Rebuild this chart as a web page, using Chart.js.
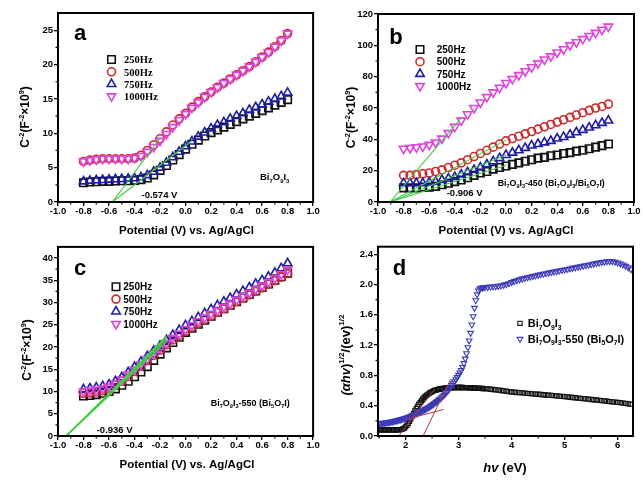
<!DOCTYPE html>
<html><head><meta charset="utf-8">
<script src="https://cdn.jsdelivr.net/npm/chart.js@4.4.0/dist/chart.umd.min.js"></script>
<style>
html,body{margin:0;padding:0;background:#fff;}
#wrap{position:relative;width:643px;height:482px;overflow:hidden;background:#fff}
canvas{position:absolute}
</style></head><body>
<div id="wrap">
<canvas id="ca" width="320" height="240" style="left:0;top:0;width:320px;height:240px"></canvas>
<canvas id="cb" width="323" height="240" style="left:320px;top:0;width:323px;height:240px"></canvas>
<canvas id="cc" width="320" height="242" style="left:0;top:240px;width:320px;height:242px"></canvas>
<canvas id="cd" width="323" height="242" style="left:320px;top:240px;width:323px;height:242px"></canvas>
</div>
<script>
// ---------------- DATA ----------------
const potential = [-0.8,-0.75,-0.7,-0.65,-0.6,-0.55,-0.5,-0.45,-0.4,-0.35,-0.3,-0.25,-0.2,-0.15,-0.1,-0.05,0,0.05,0.1,0.15,0.2,0.25,0.3,0.35,0.4,0.45,0.5,0.55,0.6,0.65,0.7,0.75,0.8];
const freqLabels = ['250Hz','500Hz','750Hz','1000Hz'];

const aF250  = [2.8,2.9,2.95,3.0,3.0,3.05,3.1,3.1,3.15,3.25,3.5,3.95,4.6,5.3,6.1,6.9,7.7,8.4,9.0,9.6,10.1,10.5,10.9,11.3,11.7,12.1,12.5,12.9,13.3,13.7,14.1,14.5,14.9];
const aF500  = [5.9,6.1,6.2,6.3,6.3,6.3,6.3,6.3,6.4,6.8,7.5,8.3,9.2,10.2,11.2,12.1,12.9,13.8,14.6,15.3,16.0,16.7,17.3,17.9,18.5,19.1,19.7,20.4,21.1,21.8,22.6,23.5,24.5];
const aF750  = [3.0,3.1,3.15,3.2,3.25,3.3,3.35,3.4,3.45,3.6,3.9,4.4,5.0,5.7,6.5,7.3,8.1,8.8,9.5,10.1,10.7,11.2,11.6,12.1,12.5,12.9,13.4,13.8,14.2,14.6,15.0,15.4,15.9];
const aF1000 = [5.9,6.1,6.2,6.3,6.3,6.3,6.3,6.3,6.4,6.7,7.3,8.0,8.9,9.9,10.9,11.9,12.8,13.7,14.5,15.3,16.0,16.7,17.3,17.9,18.5,19.1,19.7,20.4,21.1,21.8,22.6,23.5,24.5];
const aFitX = [[-0.574,-0.2],[-0.574,0.05]];
const aFitY = [[0,9.24],[0,8.9]];

const bF250  = [9,9,9,9.5,9.5,10,11,12,13,14,15.5,17,18.5,19.5,21,22,23,24,25,26,27,28,28.5,29.5,30,31,31.5,32.5,33,34,35,36,37];
const bF500  = [17,17,17.5,18,18.5,19.5,20.5,22,23.5,25,27,29,31,33,35,37,39,40.5,42,43.5,45,46.5,48,49.5,51,52.5,54,55.5,57,58.5,60,61,62.5];
const bF750  = [12,12,12,12,12.5,13,14,15,16,17.5,19,20.5,22,24,26,28,30,31.5,33,34.5,36,37,38,39,40.5,41.5,43,44.5,46,47.5,49,50.5,52];
const bF1000 = [34,34.5,35,35.5,36.5,38,40.5,44,48,52,56,60,63.5,67,70,73,76,78.5,81,83.5,86,88.5,91,93,95.5,97.5,100,102,104,106,108,110,112];
const bFitX = [[-0.906,-0.35],[-0.906,0.0],[-0.906,0.0],[-0.906,0.0]];
const bFitY = [[0,53.5],[0,39.5],[0,30],[0,23.5]];

const cF250  = [9.0,9.1,9.3,9.6,10.0,10.6,11.4,12.3,13.3,14.4,15.6,17.0,18.4,19.8,21.0,22.2,23.3,24.2,25.1,26.0,26.9,27.8,28.6,29.4,30.2,31.0,31.8,32.6,33.4,34.2,35.0,35.8,36.6];
const cF500  = [9.6,9.7,9.9,10.2,10.7,11.4,12.3,13.4,14.5,15.7,16.9,18.1,19.3,20.5,21.6,22.6,23.6,24.5,25.4,26.2,27.0,27.8,28.6,29.4,30.2,31.0,31.7,32.5,33.3,34.1,34.9,35.7,36.5];
const cF750  = [10.5,10.7,10.9,11.2,11.6,12.3,13.2,14.3,15.5,16.7,17.9,19.1,20.3,21.5,22.7,23.8,24.9,25.8,26.7,27.6,28.5,29.4,30.2,31.0,31.8,32.6,33.4,34.2,35.0,35.8,36.7,37.7,38.8];
const cF1000 = [10.0,10.2,10.4,10.7,11.1,11.8,12.7,13.8,14.9,16.1,17.3,18.5,19.7,20.9,22.0,23.0,24.0,24.9,25.8,26.6,27.4,28.2,29.0,29.8,30.6,31.4,32.2,33.0,33.8,34.6,35.5,36.4,37.4];
const cFitX = [[-0.936,-0.15],[-0.936,-0.15],[-0.936,-0.15],[-0.936,-0.15]];
const cFitY = [[0,21.2],[0,21.8],[0,22.4],[0,22.0]];

const dEnergy = [1.5,1.525,1.55,1.575,1.6,1.625,1.65,1.675,1.7,1.725,1.75,1.775,1.8,1.825,1.85,1.875,1.9,1.925,1.95,1.975,
2.0,2.025,2.05,2.075,2.1,2.125,2.15,2.175,2.2,2.225,2.25,2.275,2.3,2.325,2.35,2.375,2.4,2.425,2.45,2.475,
2.5,2.525,2.55,2.575,2.6,2.625,2.65,2.675,2.7,2.725,2.75,2.775,2.8,2.825,2.85,2.875,2.9,2.925,2.95,2.975,
3.0,3.025,3.05,3.075,3.1,3.125,3.15,3.175,3.2,3.225,3.25,3.275,3.3,3.325,3.35,3.375,3.4,3.425,3.45,3.475,3.5,
3.55,3.6,3.65,3.7,3.75,3.8,3.85,3.9,3.95,4.0,4.05,4.1,4.15,4.2,4.25,4.3,4.35,4.4,4.45,4.5,
4.55,4.6,4.65,4.7,4.75,4.8,4.85,4.9,4.95,5.0,5.05,5.1,5.15,5.2,5.25,5.3,5.35,5.4,5.45,5.5,
5.55,5.6,5.65,5.7,5.75,5.8,5.85,5.9,5.95,6.0,6.05,6.1,6.15,6.2,6.25];
const dBi7O9I3 = [.082,.082,.081,.081,.081,.080,.080,.080,.080,.080,.080,.080,.081,.081,.082,.083,.085,.088,.095,.105,
.120,.140,.165,.195,.228,.262,.296,.330,.362,.392,.420,.445,.468,.489,.508,.525,.540,.554,.566,.577,
.587,.595,.602,.608,.613,.617,.621,.624,.627,.629,.631,.633,.635,.636,.637,.638,.639,.639,.640,.640,
.640,.640,.640,.640,.639,.639,.638,.638,.637,.636,.635,.634,.633,.632,.631,.630,.629,.628,.627,.626,.625,
.622,.618,.614,.610,.606,.601,.596,.591,.586,.581,.578,.575,.572,.569,.566,.563,.560,.557,.554,.551,
.548,.545,.542,.539,.536,.533,.530,.526,.523,.520,.516,.512,.509,.505,.501,.497,.494,.490,.486,.482,
.479,.475,.471,.467,.463,.459,.455,.451,.448,.444,.440,.435,.430,.425,.420];
const dBi5O7I = [.165,.167,.169,.171,.173,.175,.178,.181,.184,.187,.190,.194,.198,.202,.206,.211,.216,.221,.226,.231,
.236,.242,.248,.255,.262,.270,.278,.286,.294,.302,.310,.318,.327,.336,.345,.354,.364,.374,.385,.396,
.408,.420,.433,.446,.460,.475,.490,.506,.523,.541,.560,.580,.601,.623,.646,.670,.695,.721,.748,.776,
.805,.836,.870,.910,.960,1.02,1.09,1.17,1.26,1.36,1.47,1.58,1.69,1.79,1.87,1.92,1.945,1.955,1.96,1.962,1.965,
1.967,1.969,1.972,1.975,1.98,1.986,1.994,2.004,2.016,2.03,2.043,2.055,2.066,2.076,2.085,2.094,2.102,2.11,2.118,2.126,
2.134,2.141,2.148,2.155,2.162,2.169,2.176,2.183,2.19,2.197,2.204,2.211,2.218,2.225,2.232,2.239,2.246,2.253,2.26,2.267,
2.274,2.281,2.288,2.295,2.30,2.305,2.307,2.306,2.30,2.29,2.277,2.262,2.245,2.225,2.20];
const dFitX = [[1.87,2.55],[2.33,2.85],[2.0,2.72]];
const dFitY = [[0,0.62],[0,0.75],[0.22,0.35]];

const potTicks = [-1.0,-0.8,-0.6,-0.4,-0.2,0.0,0.2,0.4,0.6,0.8,1.0];
const potMinor = [-0.9,-0.7,-0.5,-0.3,-0.1,0.1,0.3,0.5,0.7,0.9];
const aYTicks = [0,5,10,15,20,25];
const aYMinor = [2.5,7.5,12.5,17.5,22.5];
const bYTicks = [0,20,40,60,80,100,120];
const bYMinor = [10,30,50,70,90,110];
const cYTicks = [0,5,10,15,20,25,30,35,40];
const cYMinor = [2.5,7.5,12.5,17.5,22.5,27.5,32.5,37.5];
const dXTicks = [2,3,4,5,6];
const dXMinor = [1.5,2.5,3.5,4.5,5.5];
const dYTicks = [0.0,0.4,0.8,1.2,1.6,2.0,2.4];
const dYMinor = [0.2,0.6,1.0,1.4,1.8,2.2];

// ---------------- DRAW HELPERS ----------------
const SANS = '"Liberation Sans", Arial, Helvetica, sans-serif';
const SERIF = '"Liberation Serif", "Times New Roman", serif';
function rich(ctx, x, yc, segs, size, align, fam) {
  fam = fam || SANS;
  const f = k => ((k==='i'||k==='is')?'italic ':'') + 'bold ' + ((k==='sup'||k==='sub'||k==='is')? (size*0.62).toFixed(1) : size) + 'px ' + fam;
  let w = 0;
  segs.forEach(s => { ctx.font = f(s[1]); w += ctx.measureText(s[0]).width; });
  let cx = align === 'center' ? x - w/2 : (align === 'right' ? x - w : x);
  const base = yc + size*0.36;
  ctx.textAlign = 'left'; ctx.textBaseline = 'alphabetic'; ctx.fillStyle = '#000';
  segs.forEach(s => {
    ctx.font = f(s[1]);
    const dy = (s[1]==='sup'||s[1]==='is') ? -size*0.42 : (s[1]==='sub' ? size*0.22 : 0);
    ctx.fillText(s[0], cx, base + dy);
    cx += ctx.measureText(s[0]).width;
  });
}
function richRot(ctx, x, y, segs, size) {
  ctx.save(); ctx.translate(x, y); ctx.rotate(-Math.PI/2);
  rich(ctx, 0, 0, segs, size, 'center'); ctx.restore();
}
const CAP = [['C',''],['-2','sup'],['(F',''],['-2','sup'],['\u00d710',''],['9','sup'],[')','']];
const BI739 = [['Bi',''],['7','sub'],['O',''],['9','sub'],['I',''],['3','sub']];
const BI57 = [['Bi',''],['5','sub'],['O',''],['7','sub'],['I','']];

function panel(id, o) {
  const datasets = [];
  o.fitX.forEach((fx, i) => datasets.push({
    data: fx.map((x, j) => ({x, y: o.fitY[i][j]})), showLine: true, borderColor: o.fitColor,
    borderWidth: o.fitWidth, pointRadius: 0, order: 0
  }));
  o.series.forEach(s => datasets.push({
    label: s.label, data: o.x.map((x, j) => ({x, y: s.y[j]})), showLine: false,
    pointStyle: s.style, pointRotation: s.rot || 0, pointRadius: s.r,
    pointBorderColor: s.color, pointBackgroundColor: 'rgba(0,0,0,0)', pointBorderWidth: s.bw, order: s.order
  }));
  const tickFont = {family: SANS, size: 9.5, weight: 'bold'};
  const deco = {
    id: 'deco',
    afterDraw(chart) {
      const ctx = chart.ctx, ca = chart.chartArea, sx = chart.scales.x, sy = chart.scales.y;
      ctx.save();
      ctx.strokeStyle = '#000'; ctx.lineWidth = 1.2;
      ctx.beginPath();
      o.xMinor.forEach(v => { const p = sx.getPixelForValue(v); ctx.moveTo(p, ca.bottom); ctx.lineTo(p, ca.bottom + 2.5); });
      o.yMinor.forEach(v => { const p = sy.getPixelForValue(v); ctx.moveTo(ca.left, p); ctx.lineTo(ca.left - 2.5, p); });
      ctx.stroke();
      ctx.lineWidth = 2;
      ctx.strokeRect(ca.left, ca.top, ca.right - ca.left, ca.bottom - ca.top);
      ctx.fillStyle = '#000'; ctx.font = 'bold 22px ' + SANS; ctx.textAlign = 'left'; ctx.textBaseline = 'alphabetic';
      ctx.fillText(o.letter, o.letterPos[0], o.letterPos[1]);
      o.legend.rows.forEach((row, i) => {
        const s = o.series[row.k];
        ctx.strokeStyle = s.color; ctx.fillStyle = 'rgba(0,0,0,0)'; ctx.lineWidth = s.bw;
        Chart.helpers.drawPoint(ctx, {pointStyle: s.style, rotation: s.rot || 0, radius: o.legend.r || s.r, borderWidth: s.bw}, o.legend.mx, o.legend.ys[i]);
        rich(ctx, o.legend.tx, o.legend.ys[i], row.segs, o.legend.size, 'left', o.legend.fam);
      });
      o.texts.forEach(t => {
        if (t.rot) richRot(ctx, t.x, t.y, t.segs, t.size);
        else rich(ctx, t.x, t.y, t.segs, t.size, t.align || 'left', t.fam);
      });
      ctx.restore();
    }
  };
  return new Chart(document.getElementById(id), {
    type: 'scatter',
    data: {datasets},
    options: {
      responsive: false, animation: false, events: [],
      layout: {padding: {top: o.pad[0], right: o.pad[1], bottom: 0, left: 0}},
      plugins: {legend: {display: false}, tooltip: {enabled: false}},
      scales: {
        x: {
          type: 'linear', min: o.xMin, max: o.xMax,
          afterBuildTicks: sc => { sc.ticks = o.xTicks.map(v => ({value: v})); },
          afterFit: sc => { sc.height = o.xH; },
          grid: {display: true, drawOnChartArea: false, drawTicks: true, tickLength: 4, color: '#000', lineWidth: 1.3},
          border: {display: false},
          ticks: {color: '#000', font: tickFont, padding: 0, maxRotation: 0, autoSkip: false, callback: v => o.xFmt(v)}
        },
        y: {
          type: 'linear', min: o.yMin, max: o.yMax,
          afterBuildTicks: sc => { sc.ticks = o.yTicks.map(v => ({value: v})); },
          afterFit: sc => { sc.width = 58; },
          grid: {display: true, drawOnChartArea: false, drawTicks: true, tickLength: 4, color: '#000', lineWidth: 1.3},
          border: {display: false},
          ticks: {color: '#000', font: tickFont, padding: 1, autoSkip: false, callback: v => o.yFmt(v)}
        }
      }
    },
    plugins: [deco]
  });
}

const C250 = '#111111', C500 = '#cc2a2a', C750 = '#1c1ca6', C1000 = '#dd44dd', GREEN = '#44cc44';
const fx1 = v => Number(v).toFixed(1);
const fint = v => String(Math.round(v));
const potTitle = [['Potential (V) vs. Ag/AgCl','']];

function freqSeries(y250, y500, y750, y1000, r) {
  return [
    {label: freqLabels[0], y: y250, style: 'rect', r: r + 1.3, color: C250, bw: 1.6, order: 4},
    {label: freqLabels[1], y: y500, style: 'circle', r: r, color: C500, bw: 1.6, order: 3},
    {label: freqLabels[2], y: y750, style: 'triangle', r: r + 0.9, color: C750, bw: 1.6, order: 2},
    {label: freqLabels[3], y: y1000, style: 'triangle', rot: 180, r: r + 0.9, color: C1000, bw: 1.6, order: 1}
  ];
}
const legRows = freqLabels.map((l, k) => ({k, segs: [[l, '']]}));

panel('ca', {
  x: potential, xMin: -1, xMax: 1, yMin: 0, yMax: 27.5, xTicks: potTicks, xMinor: potMinor, yTicks: aYTicks, yMinor: aYMinor,
  xFmt: fx1, yFmt: fint, pad: [13, 5], xH: 38,
  series: freqSeries(aF250, aF500, aF750, aF1000, 4.0), fitX: aFitX, fitY: aFitY, fitColor: GREEN, fitWidth: 1.2,
  letter: 'a', letterPos: [74, 40],
  legend: {mx: 111.5, tx: 124, ys: [59.5, 71.8, 84, 96.3], size: 10.5, fam: SERIF, rows: legRows},
  texts: [
    {x: 141.5, y: 194.5, segs: [['-0.574 V','']], size: 9.5},
    {x: 260, y: 177, segs: BI739, size: 9.5},
    {x: 25, y: 117, segs: CAP, size: 12, rot: true},
    {x: 186.5, y: 230, segs: potTitle, size: 11.5, align: 'center'}
  ]
});
panel('cb', {
  x: potential, xMin: -1, xMax: 1, yMin: 0, yMax: 120, xTicks: potTicks, xMinor: potMinor, yTicks: bYTicks, yMinor: bYMinor,
  xFmt: fx1, yFmt: fint, pad: [14, 9], xH: 38,
  series: freqSeries(bF250, bF500, bF750, bF1000, 4.0), fitX: bFitX, fitY: bFitY, fitColor: GREEN, fitWidth: 1.1,
  letter: 'b', letterPos: [69.3, 44],
  legend: {mx: 100, tx: 116.7, ys: [49.5, 61.7, 73.9, 86.1], size: 10, rows: legRows},
  texts: [
    {x: 126.7, y: 192.7, segs: [['-0.906 V','']], size: 9.5},
    {x: 177.7, y: 182.7, segs: BI739.concat([['-450 (','']], BI739, [['/','']], BI57, [[')','']]), size: 8.8},
    {x: 31, y: 117.5, segs: CAP, size: 12, rot: true},
    {x: 186, y: 230, segs: potTitle, size: 11.5, align: 'center'}
  ]
});
panel('cc', {
  x: potential, xMin: -1, xMax: 1, yMin: 0, yMax: 42.5, xTicks: potTicks, xMinor: potMinor, yTicks: cYTicks, yMinor: cYMinor,
  xFmt: fx1, yFmt: fint, pad: [6, 5], xH: 46,
  series: freqSeries(cF250, cF500, cF750, cF1000, 4.0), fitX: cFitX, fitY: cFitY, fitColor: GREEN, fitWidth: 1.3,
  letter: 'c', letterPos: [74, 35],
  legend: {mx: 116, tx: 123.3, ys: [46.7, 59.1, 71.5, 83.9], size: 10, rows: legRows},
  texts: [
    {x: 96.7, y: 189.3, segs: [['-0.936 V','']], size: 9.5},
    {x: 210.7, y: 162.7, segs: BI739.concat([['-550 (','']], BI57, [[')','']]), size: 9},
    {x: 27, y: 110, segs: CAP, size: 12, rot: true},
    {x: 187, y: 224, segs: potTitle, size: 11.5, align: 'center'}
  ]
});
panel('cd', {
  x: dEnergy, xMin: 1.48, xMax: 6.29, yMin: 0, yMax: 2.5, xTicks: dXTicks, xMinor: dXMinor, yTicks: dYTicks, yMinor: dYMinor,
  xFmt: fint, yFmt: fx1, pad: [6, 10], xH: 46,
  series: [
    {label: 'Bi7O9I3', y: dBi7O9I3, style: 'rect', r: 3.0, color: '#111111', bw: 1.1, order: 2},
    {label: 'Bi7O9I3-550 (Bi5O7I)', y: dBi5O7I, style: 'triangle', rot: 180, r: 3.3, color: '#3a3ab8', bw: 1.1, order: 1}
  ],
  fitX: dFitX, fitY: dFitY, fitColor: '#b03a3a', fitWidth: 1,
  letter: 'd', letterPos: [72.7, 35],
  legend: {mx: 200, tx: 207.7, ys: [83.3, 99], size: 11, rows: [
    {k: 0, segs: BI739},
    {k: 1, segs: BI739.concat([['-550 (','']], BI57, [[')','']])}
  ]},
  texts: [
    {x: 25, y: 115, segs: [['(\u03b1','i'],['hv','i'],[')',''],['1/2','sup'],['/(ev)',''],['1/2','sup']], size: 13, rot: true},
    {x: 185, y: 227.7, segs: [['hv','i'],[' (eV)','']], size: 13, align: 'center'}
  ]
});
</script>
</body></html>
